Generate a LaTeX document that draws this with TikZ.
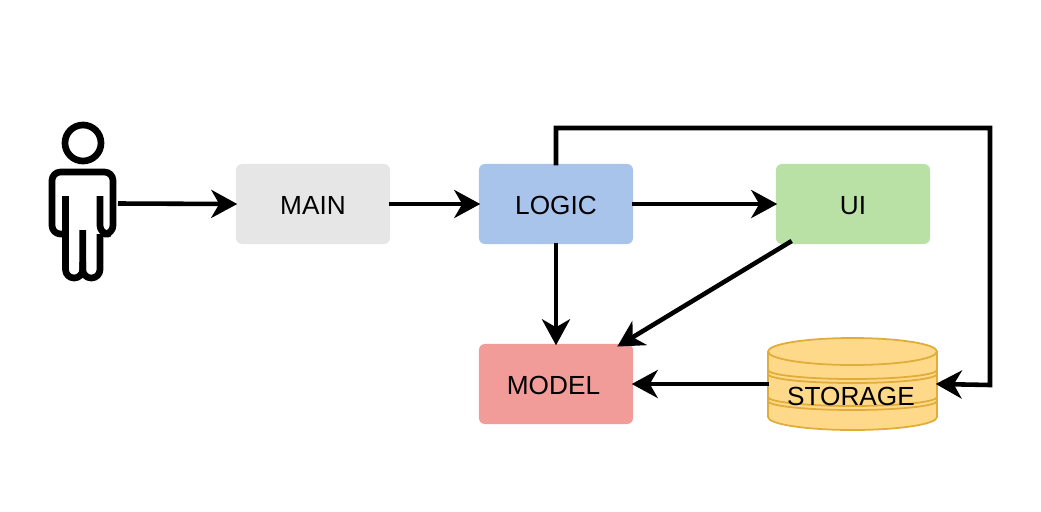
\documentclass[tikz,border=0pt]{standalone}
\usepackage{fontspec}
\setmainfont{Liberation Sans}
\usetikzlibrary{arrows.meta}
\definecolor{maingray}{HTML}{E6E6E6}
\definecolor{logicblue}{HTML}{A9C4EB}
\definecolor{uigreen}{HTML}{B9E0A5}
\definecolor{modelred}{HTML}{F19C99}
\definecolor{storefill}{HTML}{FFD98A}
\definecolor{storeline}{HTML}{E0AC3A}
\tikzstyle{arrow} = [line width=1.3pt, shorten <=-0.02cm, shorten >=-0.02cm, -{Stealth[length=0.26cm,width=0.28cm,inset=0.08cm]}]
\tikzstyle{box} = [rectangle, rounded corners=0.06cm, minimum width=1.54cm, minimum height=0.8cm, inner sep=0pt, text height=0.217cm, text depth=0pt, font=\fontsize{7.45}{9}\selectfont]
\tikzstyle{figure} = [line width=1.9pt, line join=round, rounded corners=0.085cm]
\tikzstyle{disk} = [fill=storefill, draw=storeline, line width=0.5pt]

\begin{document}
\begin{tikzpicture}[x=0.01cm,y=-0.01cm]
	\useasboundingbox (0,0) rectangle (1041,511);
	% person
	\draw[figure] (83,143) circle (0.18cm);
	\draw[figure] (65.5,196) [sharp corners] -- (65.5,234) [rounded corners=0.085cm] -- (52,234) -- (52,172) -- (113,172) -- (113,234) -- (100,234) [sharp corners] -- (100,196);
	\draw[figure] (65.5,234) -- (65.5,278) -- (82.7,278) [sharp corners] -- (82.7,230);
	\draw[figure] (82.7,262) -- (82.7,278) -- (100,278) [sharp corners] -- (100,234);
	% boxes
	\node[box, fill=maingray] (main) at (313,204) {MAIN};
	\node[box, fill=logicblue] (logic) at (556,204) {LOGIC};
	\node[box, fill=uigreen] (ui) at (853,204) {UI};
	\node[box, fill=modelred] (model) at (556,384) {MODEL\kern0.05cm};
	% storage
	\draw[disk] (768,351.5) -- (768,417) arc (180:0:84.5 and 13) -- (937,351.5) arc (0:-180:84.5 and 13.5) -- cycle;
	\draw[disk] (768,351.5) arc (180:0:84.5 and 13.5);
	\draw[disk, fill=none] (768,370) arc (180:0:84.5 and 9) (768,374) arc (180:0:84.5 and 9);
	\draw[disk, fill=none] (768,397) arc (180:0:84.5 and 9) (768,401) arc (180:0:84.5 and 9);
	\node[box, minimum width=1.69cm, minimum height=0.92cm] (storage) at (852.5,384) {};
	\node[box] (storagelabel) at (851,395) {STORAGE};
	\coordinate (user) at (120,203.5);
	\coordinate (bendtop) at (990,128);
	\coordinate (bendright) at (990,385);
	\coordinate (uiout) at (790,242);
	\coordinate (modelin) at (619,345.5);
	% connectors
	\draw[arrow] (user) -- (main.west);
	\draw[arrow] (main.east) -- (logic.west);
	\draw[arrow] (logic.east) -- (ui.west);
	\draw[arrow] (logic.south) -- (model.north);
	\draw[arrow] (uiout) -- (modelin);
	\draw[arrow] (storage.west) -- (model.east);
	\draw[arrow] (logic.north) |- (bendtop) -- (bendright) -- (storage.east);
\end{tikzpicture}
\end{document}
